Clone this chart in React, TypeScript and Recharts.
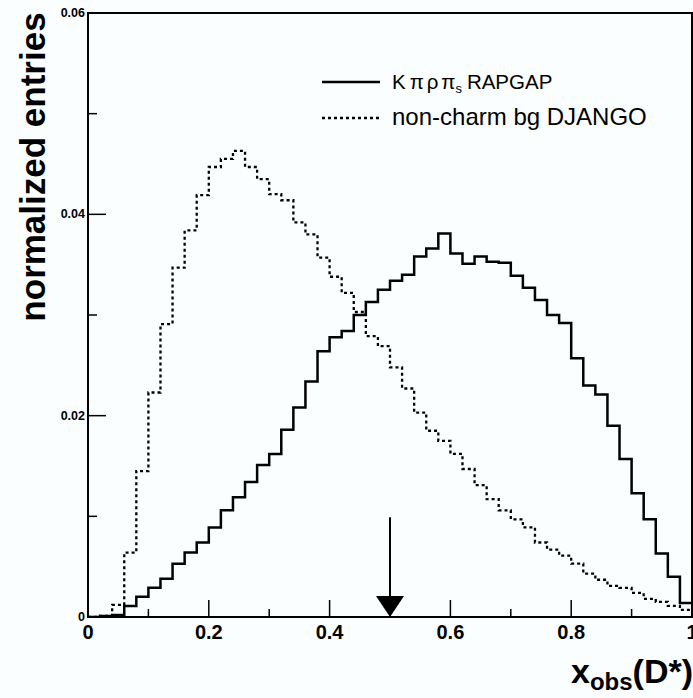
import React from "react";
import {
  Legend,
  Line,
  LineChart,
  ReferenceArea,
  ReferenceDot,
  ReferenceLine,
  XAxis,
  YAxis,
} from "recharts";

// lower bin edges (50 bins of 0.02) plus the closing edge at 1
const binEdges = [
  0, 0.02, 0.04, 0.06, 0.08, 0.1, 0.12, 0.14, 0.16, 0.18, 0.2, 0.22, 0.24,
  0.26, 0.28, 0.3, 0.32, 0.34, 0.36, 0.38, 0.4, 0.42, 0.44, 0.46, 0.48, 0.5,
  0.52, 0.54, 0.56, 0.58, 0.6, 0.62, 0.64, 0.66, 0.68, 0.7, 0.72, 0.74, 0.76,
  0.78, 0.8, 0.82, 0.84, 0.86, 0.88, 0.9, 0.92, 0.94, 0.96, 0.98, 1,
];

// K pi rho pi_s RAPGAP (solid)
const rapgap = [
  0, 0.0001, 0.0002, 0.0011, 0.002, 0.0029, 0.0038, 0.0053, 0.0064, 0.0074,
  0.0089, 0.0106, 0.0119, 0.0134, 0.0151, 0.0162, 0.0186, 0.0208, 0.0234,
  0.0264, 0.0278, 0.0284, 0.03, 0.0313, 0.0325, 0.0334, 0.034, 0.0358, 0.0366,
  0.0381, 0.0361, 0.0351, 0.0358, 0.0353, 0.0352, 0.0339, 0.0327, 0.0315,
  0.03, 0.0292, 0.0257, 0.023, 0.0221, 0.019, 0.0157, 0.0123, 0.0097, 0.0063,
  0.004, 0.0014,
];

// non-charm bg DJANGO (dotted)
const django = [
  0, 0.0001, 0.0012, 0.0064, 0.0145, 0.0223, 0.0291, 0.0347, 0.0384, 0.0419,
  0.0447, 0.0455, 0.0463, 0.0447, 0.0435, 0.042, 0.0414, 0.0392, 0.038,
  0.0357, 0.0338, 0.0322, 0.0303, 0.0279, 0.0269, 0.0248, 0.0227, 0.0203,
  0.0185, 0.0175, 0.0162, 0.0147, 0.0131, 0.0117, 0.0106, 0.0097, 0.0089,
  0.0074, 0.0067, 0.0061, 0.0053, 0.0043, 0.0037, 0.0031, 0.0029, 0.0024,
  0.0018, 0.0015, 0.0011, 0.0007,
];

const xTicks = [0, 0.1, 0.2, 0.3, 0.4, 0.5, 0.6, 0.7, 0.8, 0.9, 1];
const yTicks = [0, 0.01, 0.02, 0.03, 0.04, 0.05, 0.06];
const legendOrder = ["rapgap", "django"];
const cutValue = 0.5;
const arrowTop = 0.0099;

const FONT = "'Liberation Sans', Arial, Helvetica, sans-serif";

const data = binEdges.map((x, i) => ({
  x,
  rapgap: rapgap[Math.min(i, rapgap.length - 1)],
  django: django[Math.min(i, django.length - 1)],
}));

const XTick = ({ x, y, payload }: any) => {
  const v = payload.value;
  const major = Math.round(v * 10) % 2 === 0;
  const label = v === 0 ? "0" : v === 1 ? "1" : v.toFixed(1);
  return (
    <g>
      <line x1={x} x2={x} y1={y} y2={y - (major ? 17 : 8)} stroke="#000" strokeWidth={1.5} />
      {major && (
        <text x={x} y={y + 22} textAnchor="middle" fontSize={20} fontWeight="bold" fontFamily={FONT} fill="#000">
          {label}
        </text>
      )}
    </g>
  );
};

const YTick = ({ x, y, payload }: any) => {
  const v = payload.value;
  const major = Math.round(v * 100) % 2 === 0;
  return (
    <g>
      <line x1={x} x2={x + (major ? 18 : 9)} y1={y} y2={y} stroke="#000" strokeWidth={1.5} />
      {major && (
        <text x={x - 3} y={y + 4} textAnchor="end" fontSize={12.5} fontWeight="bold" fontFamily={FONT} fill="#000">
          {v === 0 ? "0" : v.toFixed(2)}
        </text>
      )}
    </g>
  );
};

const ArrowHead = ({ cx, cy }: any) => (
  <polygon points={`${cx},${cy} ${cx - 14},${cy - 21} ${cx + 14},${cy - 21}`} fill="#000" />
);

const legendLabels: Record<string, React.ReactNode> = {
  rapgap: (
    <>
      K<tspan dx={4}>π</tspan>
      <tspan dx={3}>ρ</tspan>
      <tspan dx={3}>π</tspan>
      <tspan fontSize={13} dy={4}>s</tspan>
      <tspan dy={-4} dx={5}>RAPGAP</tspan>
    </>
  ),
  django: "non-charm bg DJANGO",
};

const legendFont: Record<string, number> = { rapgap: 20.5, django: 24 };

const renderLegend = (props: any) => {
  const payload = [...(props.payload || [])].sort(
    (a: any, b: any) => legendOrder.indexOf(a.dataKey) - legendOrder.indexOf(b.dataKey)
  );
  return (
    <svg width={372} height={80}>
      {payload.map((entry: any, i: number) => {
        const yLine = 22 + i * 36;
        const dashed = entry.dataKey === "django";
        return (
          <g key={entry.dataKey}>
            <line
              x1={3}
              x2={61}
              y1={yLine}
              y2={yLine}
              stroke="#000"
              strokeWidth={dashed ? 2.3 : 2.5}
              strokeDasharray={dashed ? "3 3" : undefined}
            />
            <text x={73} y={yLine + 7} fontSize={legendFont[entry.dataKey]} fontFamily={FONT} fill="#000">
              {legendLabels[entry.dataKey]}
            </text>
          </g>
        );
      })}
    </svg>
  );
};

export default function App() {
  return (
    <div style={{ width: 693, height: 698, background: "#fbfefe", position: "relative" }}>
      <style>{`body{margin:0}`}</style>
      <LineChart width={693} height={698} data={data} margin={{ top: 13, right: 1, left: 0, bottom: 0 }}>
        <XAxis
          dataKey="x"
          type="number"
          domain={[0, 1]}
          ticks={xTicks}
          interval={0}
          height={81}
          tickSize={0}
          tickMargin={0}
          tickLine={false}
          axisLine={{ stroke: "#000", strokeWidth: 2 }}
          tick={<XTick />}
          allowDataOverflow
        />
        <YAxis
          type="number"
          domain={[0, 0.06]}
          ticks={yTicks}
          interval={0}
          width={88}
          tickSize={0}
          tickMargin={0}
          tickLine={false}
          axisLine={{ stroke: "#000", strokeWidth: 2 }}
          tick={<YTick />}
          allowDataOverflow
        />
        <ReferenceArea x1={0} x2={1} y1={0} y2={0.06} fill="none" stroke="#000" strokeWidth={2} />
        <Line
          dataKey="rapgap"
          type="stepAfter"
          stroke="#000"
          strokeWidth={2.5}
          dot={false}
          isAnimationActive={false}
        />
        <Line
          dataKey="django"
          type="stepAfter"
          stroke="#000"
          strokeWidth={2.3}
          strokeDasharray="3 3"
          dot={false}
          isAnimationActive={false}
        />
        <ReferenceLine
          segment={[
            { x: cutValue, y: arrowTop },
            { x: cutValue, y: 0.0015 },
          ]}
          stroke="#000"
          strokeWidth={2}
        />
        <ReferenceDot x={cutValue} y={0} shape={<ArrowHead />} />
        <Legend
          content={renderLegend}
          layout="horizontal"
          verticalAlign="middle"
          align="center"
          wrapperStyle={{ top: 60, left: 319, width: 372 }}
        />
      </LineChart>
      <svg width={693} height={698} style={{ position: "absolute", left: 0, top: 0, pointerEvents: "none" }}>
        <text
          transform="translate(45,167) rotate(-90)"
          textAnchor="middle"
          fontSize={35}
          fontWeight="bold"
          fontFamily={FONT}
          fill="#000"
        >
          normalized entries
        </text>
        <text x={571} y={683} fontSize={34} fontWeight="bold" fontFamily={FONT} fill="#000">
          x<tspan fontSize={24} dy={7}>obs</tspan>
          <tspan dy={-7}>(D*)</tspan>
        </text>
      </svg>
    </div>
  );
}
